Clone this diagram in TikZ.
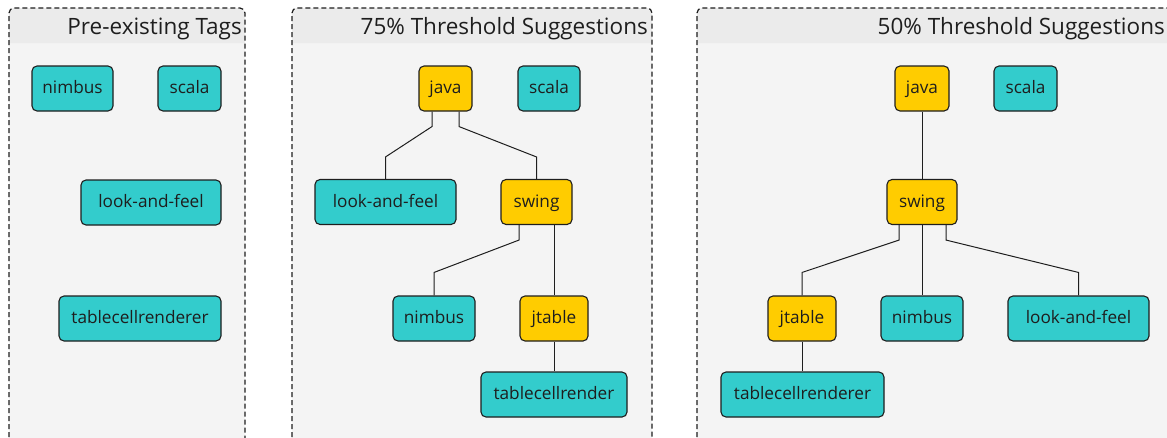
\documentclass[tikz,border=0pt]{standalone}
\usepackage{fontspec}
\setmainfont{Open Sans}
\definecolor{tealc}{HTML}{33CCCC}
\definecolor{yellowc}{HTML}{FFCC00}
\definecolor{bodyg}{HTML}{F4F4F4}
\definecolor{headg}{HTML}{EBEBEB}
\definecolor{edgec}{HTML}{1E1E1E}
\tikzset{
  tagbox/.style={draw=edgec, line width=1.1pt, rounded corners=5pt, inner sep=0pt,
    minimum height=45pt, font=\fontsize{17.2}{20}\selectfont, text=edgec,
    text height=1.08em, text depth=0pt},
  tealbox/.style={tagbox, fill=tealc},
  yellowbox/.style={tagbox, fill=yellowc},
  link/.style={draw=edgec, line width=1pt},
  panelborder/.style={draw=edgec, line width=1.2pt, dash pattern=on 5pt off 3pt},
  paneltitle/.style={anchor=base east, font=\fontsize{22.5}{27}\selectfont, text=edgec, inner sep=0pt}
}
\begin{document}
\begin{tikzpicture}[x=1pt,y=-1pt]
\useasboundingbox (0,0) rectangle (1167,437);
\clip (0,0) rectangle (1167,437);
% panels
\foreach \l/\r in {9/245, 292/652, 697/1200}{
  \fill[bodyg] (\l,445) [rounded corners=5pt]-- (\l,8) -- (\r,8) [sharp corners]-- (\r,445) -- cycle;
  \fill[headg] (\l,43) [rounded corners=5pt]-- (\l,8) -- (\r,8) [sharp corners]-- (\r,43) -- cycle;
  \draw[panelborder] (\l,445) [rounded corners=5pt]-- (\l,8) -- (\r,8) [sharp corners]-- (\r,445);
}
\node[paneltitle] (t1) at (242,34.5) {Pre-existing Tags};
\node[paneltitle] (t2) at (648,34.5) {75\% Threshold Suggestions};
\node[paneltitle] (t3) at (1165,34.5) {50\% Threshold Suggestions};
% panel 1
\node[tealbox, minimum width=81pt] (nimbus1) at (72.5,88.5) {nimbus};
\node[tealbox, minimum width=63pt] (scala1) at (189.5,88.5) {scala};
\node[tealbox, minimum width=140pt] (laf1) at (151,202.5) {look-and-feel};
\node[tealbox, minimum width=162pt] (tcr1) at (140,318.5) {tablecellrenderer};
% panel 2
\node[yellowbox, minimum width=53pt] (java2) at (445.5,88.5) {java};
\node[tealbox, minimum width=62pt] (scala2) at (549,88.5) {scala};
\node[tealbox, minimum width=141pt] (laf2) at (385.5,202) {look-and-feel};
\node[yellowbox, minimum width=71pt] (swing2) at (536.5,202) {swing};
\node[tealbox, minimum width=82pt] (nimbus2) at (434,318.5) {nimbus};
\node[yellowbox, minimum width=68pt] (jtable2) at (554,318.5) {jtable};
\node[tealbox, minimum width=146pt] (tcr2) at (554,394.5) {tablecellrender};
\draw[link] ([xshift=-13.5pt]java2.south) -- ++(0,15) -- ([yshift=22pt]laf2.north) -- (laf2.north);
\draw[link] ([xshift=13.5pt]java2.south) -- ++(0,15) -- ([yshift=22pt]swing2.north) -- (swing2.north);
\draw[link] ([xshift=-17.5pt]swing2.south) -- ++(0,15) -- ([yshift=23pt]nimbus2.north) -- (nimbus2.north);
\draw[link] (jtable2.north |- swing2.south) -- (jtable2.north);
\draw[link] (jtable2.south) -- (tcr2.north);
% panel 3
\node[yellowbox, minimum width=54pt] (java3) at (922,88.5) {java};
\node[tealbox, minimum width=63pt] (scala3) at (1025.5,88.5) {scala};
\node[yellowbox, minimum width=70pt] (swing3) at (922,202) {swing};
\node[yellowbox, minimum width=68pt] (jtable3) at (802,318.5) {jtable};
\node[tealbox, minimum width=82pt] (nimbus3) at (922,318.5) {nimbus};
\node[tealbox, minimum width=141pt] (laf3) at (1078.5,318.5) {look-and-feel};
\node[tealbox, minimum width=163pt] (tcr3) at (802.5,394.5) {tablecellrenderer};
\draw[link] (java3.south) -- (swing3.north);
\draw[link] ([xshift=-23pt]swing3.south) -- ++(0,15) -- ([yshift=23pt]jtable3.north) -- (jtable3.north);
\draw[link] (swing3.south) -- (nimbus3.north);
\draw[link] ([xshift=24pt]swing3.south) -- ++(0,15) -- ([yshift=23pt]laf3.north) -- (laf3.north);
\draw[link] (jtable3.south) -- (tcr3.north -| jtable3.south);
\end{tikzpicture}
\end{document}
